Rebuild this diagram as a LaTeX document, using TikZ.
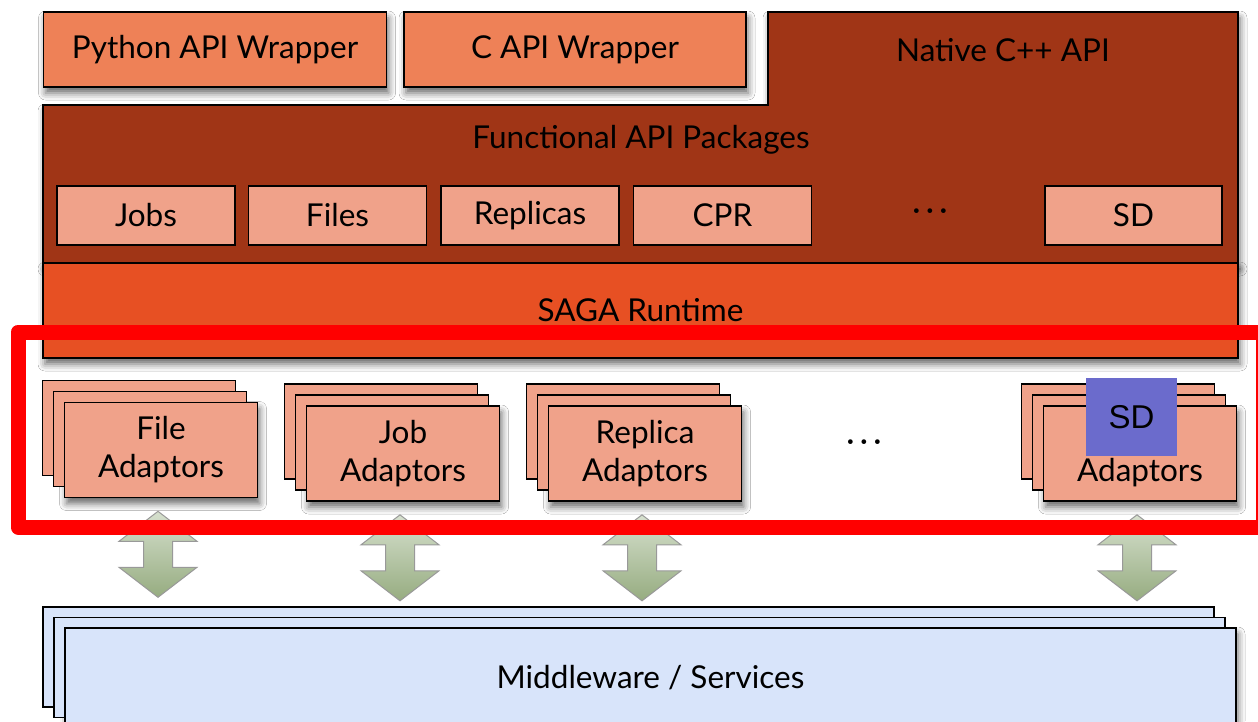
\documentclass[tikz,border=0pt]{standalone}
\usepackage{fontspec}
\setmainfont{Lato}
\newfontfamily\tagfont{Liberation Sans}
\usepackage{tikz}
\usetikzlibrary{calc, shadows, shadows.blur}

\definecolor{wraporange}{RGB}{238,129,87}
\definecolor{apibrown}{RGB}{160,53,22}
\definecolor{pkgsalmon}{RGB}{240,162,138}
\definecolor{runtimeorange}{RGB}{231,80,35}
\definecolor{mwblue}{RGB}{216,228,250}
\definecolor{sdblue}{RGB}{107,107,204}
\definecolor{arrowtop}{RGB}{214,224,206}
\definecolor{arrowbottom}{RGB}{150,172,128}

\tikzset{
    softshadow/.style={blur shadow={shadow xshift=2pt, shadow yshift=-6pt,
        shadow blur radius=7pt, shadow opacity=60}},
    layerbox/.style={draw=black, line width=1.6pt, inner sep=0pt, align=center},
    wrapbox/.style={layerbox, fill=wraporange, minimum width=343pt,
        minimum height=75pt, softshadow},
    pkgbox/.style={layerbox, fill=pkgsalmon, minimum width=178pt, minimum height=59pt},
    adaptorstack/.style={layerbox, fill=pkgsalmon, minimum width=193pt,
        minimum height=95pt, softshadow,
        double copy shadow={shadow xshift=-11pt, shadow yshift=11pt}},
    mwstack/.style={layerbox, fill=mwblue, minimum width=1171pt, minimum height=100pt,
        softshadow, double copy shadow={shadow xshift=-11pt, shadow yshift=10.5pt}},
    updown/.style={draw=gray!80, line width=1pt, top color=arrowtop, bottom color=arrowbottom},
}

\begin{document}
\begin{tikzpicture}[x=1pt, y=-1pt, every node/.style={font=\fontsize{31.5}{38}\selectfont}]
    \useasboundingbox (0,0) rectangle (1258,721);
    \fill[white] (0,0) rectangle (1258,721);

    % Native C++ API area holding the functional packages
    \draw[fill=apibrown, line width=1.6pt, softshadow]
        (43,105) -- (768,105) -- (768,12) -- (1238,12) -- (1238,263) -- (43,263) -- cycle;
    \node (native) at (1003,50) {Native C++ API};
    \node (functional) at (641,140) {Functional API Packages};

    % Runtime layer
    \node[layerbox, fill=runtimeorange, minimum width=1195pt, minimum height=95pt, softshadow]
        (runtime) at (640.5,310.5) {SAGA Runtime};

    % Language wrappers
    \node[wrapbox] (python) at (215,49.5) {Python API Wrapper};
    \node[wrapbox, minimum width=342pt] (capi) at (575,49.5) {C API Wrapper};

    % Functional packages
    \node[pkgbox] (jobs) at (146,215.5) {Jobs};
    \node[pkgbox] (files) at (337.5,215.5) {Files};
    \node[pkgbox] (replicas) at (530,215.5) {Replicas};
    \node[pkgbox] (cpr) at (722.5,215.5) {CPR};
    \node (pkgDots) at (930,215) {·\,·\,·};
    \node[pkgbox, minimum width=177pt] (sd) at (1133.5,215.5) {SD};

    % Adaptor stacks
    \node[adaptorstack] (fileAd) at (161,450) {File\\Adaptors};
    \node[adaptorstack] (jobAd) at (403,453.5) {Job\\Adaptors};
    \node[adaptorstack] (replicaAd) at (645,453.5) {Replica\\Adaptors};
    \node (adDots) at (864,446) {·\,·\,·};
    \node[adaptorstack] (sdAd) at (1140,453.5) {\vphantom{File}\\Adaptors};

    % Up/down arrows to the middleware
    \foreach \s in {fileAd, jobAd, replicaAd, sdAd}
        \shadedraw[updown] ($(\s.south)+(-3,13)$) -- ++(39,30) -- ++(-24.5,0) -- ++(0,26)
            -- ++(24.5,0) -- ++(-39,30) -- ++(-39,-30) -- ++(24.5,0) -- ++(0,-26)
            -- ++(-24.5,0) -- cycle;

    % Middleware stack
    \node[mwstack] (mw) at (650.5,678) {Middleware / Services};

    % Highlight
    \node[fill=sdblue, minimum width=91pt, minimum height=78pt, inner sep=0pt,
        font=\tagfont\fontsize{33}{36}\selectfont] (sdTag) at (1131.5,417) {SD};
    \draw[red, line width=15pt, line join=round] (18,332) rectangle (1263,527);
\end{tikzpicture}
\end{document}
